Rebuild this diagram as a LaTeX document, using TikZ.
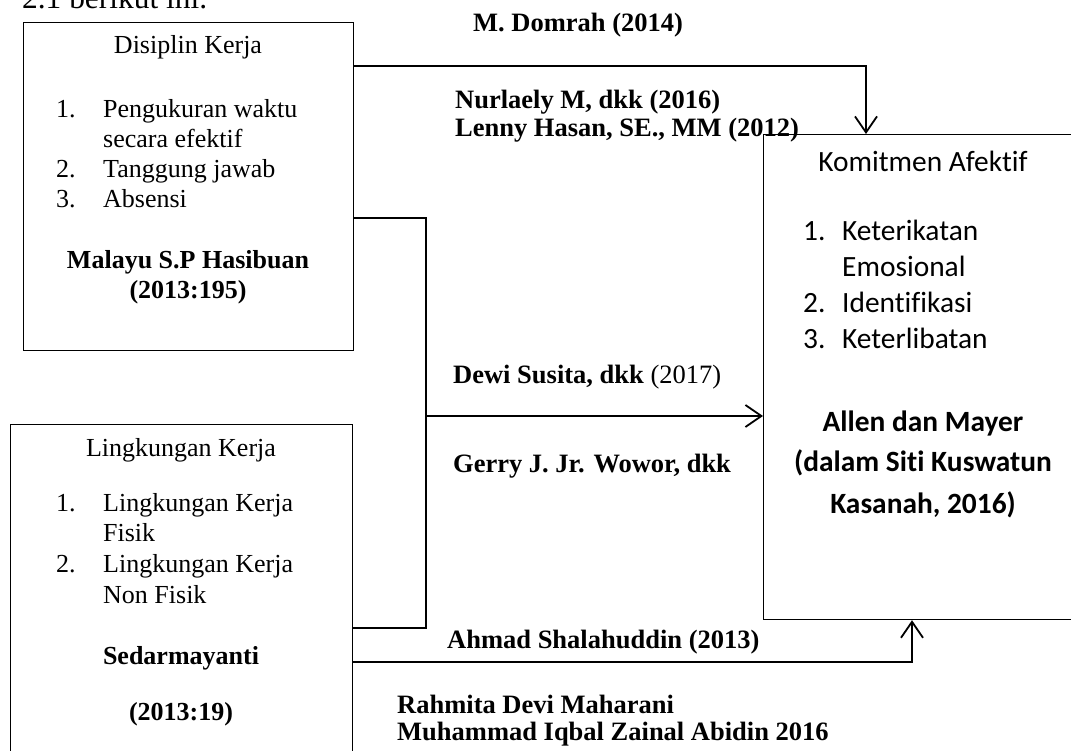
\documentclass[tikz,border=0pt]{standalone}
\usepackage{fontspec}
\setmainfont{Liberation Serif}
\newfontfamily\calfont[Ligatures=NoCommon]{Carlito}
\usetikzlibrary{arrows.meta}
\begin{document}
\begin{tikzpicture}[x=1pt,y=-1pt,
  box/.style={draw, line width=1.2pt, inner sep=0pt, anchor=north west},
  tnr/.style={font=\fontsize{26}{31}\selectfont, inner sep=0pt, text height=18pt, text depth=6pt},
  tnrb/.style={tnr, font=\fontsize{26}{31}\selectfont\bfseries},
  lab/.style={tnr, font=\fontsize{26.5}{31}\selectfont\bfseries, anchor=west},
  cal/.style={font=\calfont\fontsize{29.4}{34}\selectfont, inner sep=0pt, text height=19pt, text depth=6pt},
  calb/.style={cal, font=\calfont\fontsize{29.4}{34}\selectfont\bfseries},
  conn/.style={line width=1.8pt},
  arr/.style={conn, -{Straight Barb[length=16pt,width=22pt]}}
]
\useasboundingbox (0,0) rectangle (1071,751);
\fill[white] (0,0) rectangle (1071,751);
\clip (0,0) rectangle (1071,751);

% heading fragment
\node[inner sep=0pt, font=\fontsize{31.4}{36}\selectfont, anchor=base west] (head) at (22,9) {2.1 berikut ini.};

% boxes
\node[box, minimum width=330pt, minimum height=328pt] (b1) at (23,22) {};
\node[box, minimum width=342pt, minimum height=356pt] (b2) at (10,424) {};
\node[box, minimum width=330pt, minimum height=485pt] (b3) at (763,134) {};

% box 1 text
\node[tnr] (t1) at (188,48) {Disiplin Kerja};
\node[tnr, anchor=west] (t1n1) at (56,112) {1.};
\node[tnr, anchor=west] (t1a) at (103,112) {Pengukuran waktu};
\node[tnr, anchor=west] (t1b) at (103,142) {secara efektif};
\node[tnr, anchor=west] (t1n2) at (56,172) {2.};
\node[tnr, anchor=west] (t1c) at (103,172) {Tanggung jawab};
\node[tnr, anchor=west] (t1n3) at (56,202) {3.};
\node[tnr, anchor=west] (t1d) at (103,202) {Absensi};
\node[tnrb] (t1s) at (188,263) {Malayu S.P Hasibuan};
\node[tnrb] (t1y) at (188,293) {(2013:195)};

% box 2 text
\node[tnr] (t2) at (181,450) {Lingkungan Kerja};
\node[tnr, anchor=west] (t2n1) at (56,505) {1.};
\node[tnr, anchor=west] (t2a) at (103,505) {Lingkungan Kerja};
\node[tnr, anchor=west] (t2b) at (103,535) {Fisik};
\node[tnr, anchor=west] (t2n2) at (56,566) {2.};
\node[tnr, anchor=west] (t2c) at (103,566) {Lingkungan Kerja};
\node[tnr, anchor=west] (t2d) at (103,597) {Non Fisik};
\node[tnrb] (t2s) at (181,658) {Sedarmayanti};
\node[tnrb] (t2y) at (181,714) {(2013:19)};

% box 3 text
\node[cal] (t3) at (923,165) {Komitmen Afektif};
\node[cal, anchor=west] (t3n1) at (803,234) {1.};
\node[cal, anchor=west] (t3a) at (842,234) {Keterikatan};
\node[cal, anchor=west] (t3b) at (842,270) {Emosional};
\node[cal, anchor=west] (t3n2) at (803,306) {2.};
\node[cal, anchor=west] (t3c) at (842,306) {Identifikasi};
\node[cal, anchor=west] (t3n3) at (803,342) {3.};
\node[cal, anchor=west] (t3d) at (842,342) {Keterlibatan};
\node[calb] (t3s1) at (923,425) {Allen dan Mayer};
\node[calb] (t3s2) at (923,465) {(dalam Siti Kuswatun};
\node[calb] (t3s3) at (923,507) {Kasanah, 2016)};

% connectors
\coordinate (c1) at (866,66);
\draw[arr] (b1.east |- c1) -- (c1) -- (c1 |- b3.north);

\coordinate (ja) at (426,218);
\coordinate (jb) at (426,628);
\coordinate (j) at (426,416);
\draw[conn] (b1.east |- ja) -- (ja) -- (jb) -- (b2.east |- jb);
\draw[arr] (j) -- (j -| b3.west);

\coordinate (c3) at (912,662);
\draw[arr] (b2.east |- c3) -- (c3) -- (c3 |- b3.south);

% connector labels
\node[lab] (l1) at (473,26) {M. Domrah (2014)};
\node[lab] (l2) at (455,103) {Nurlaely M, dkk (2016)};
\node[lab] (l3) at (455,131) {Lenny Hasan, SE., MM (2012)};
\node[tnr, font=\fontsize{26.5}{31}\selectfont, anchor=west] (l4) at (453,377) {\textbf{Dewi Susita, dkk} (2017)};
\node[lab] (l5) at (453,466) {Gerry J. Jr. Wowor, dkk};
\node[lab] (l6) at (447,642) {Ahmad Shalahuddin (2013)};
\node[lab] (l7) at (397,707) {Rahmita Devi Maharani};
\node[lab] (l8) at (397,734) {Muhammad Iqbal Zainal Abidin 2016};
\end{tikzpicture}
\end{document}
